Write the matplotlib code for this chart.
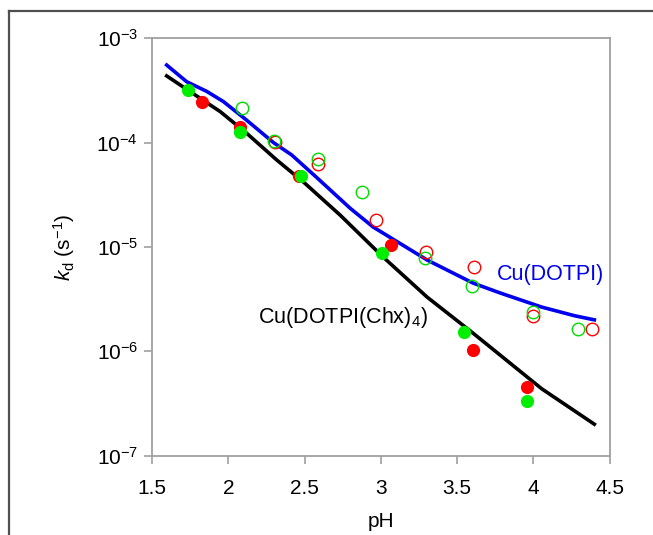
import matplotlib.pyplot as plt
from matplotlib.lines import Line2D

plt.rcParams['font.family'] = ['Liberation Sans', 'DejaVu Sans']
plt.rcParams['mathtext.fontset'] = 'custom'
plt.rcParams['mathtext.rm'] = 'Liberation Sans'
plt.rcParams['mathtext.it'] = 'Liberation Sans:italic'

# fitted curves
ph_blue = [1.596, 1.727, 1.859, 1.968, 2.12, 2.296, 2.416, 2.58, 2.80, 2.95, 3.303, 3.605, 3.78, 4.055, 4.27, 4.40]
kd_blue = [5.53e-4, 3.83e-4, 3.09e-4, 2.47e-4, 1.64e-4, 1.0e-4, 7.6e-5, 4.62e-5, 2.34e-5, 1.55e-5, 7.5e-6, 4.5e-6, 3.63e-6, 2.65e-6, 2.19e-6, 2.0e-6]
ph_black = [1.596, 1.748, 1.947, 2.12, 2.318, 2.5, 2.733, 3.015, 3.303, 3.605, 3.782, 4.055, 4.40]
kd_black = [4.35e-4, 3.09e-4, 1.98e-4, 1.23e-4, 6.8e-5, 4.1e-5, 2.02e-5, 8.0e-6, 3.31e-6, 1.49e-6, 9.2e-7, 4.37e-7, 2.0e-7]

# measured points
red_f_ph = [1.83, 2.074, 2.465, 3.066, 3.604, 3.96]
red_f_kd = [2.46e-4, 1.41e-4, 4.8e-5, 1.04e-5, 1.03e-6, 4.5e-7]
green_f_ph = [1.738, 2.08, 2.476, 3.01, 3.544, 3.96]
green_f_kd = [3.16e-4, 1.25e-4, 4.8e-5, 8.7e-6, 1.54e-6, 3.3e-7]
red_o_ph = [2.307, 2.585, 2.97, 3.295, 3.61, 4.0, 4.383]
red_o_kd = [1.02e-4, 6.25e-5, 1.8e-5, 9.0e-6, 6.45e-6, 2.19e-6, 1.65e-6]
green_o_ph = [2.088, 2.298, 2.585, 2.875, 3.29, 3.60, 3.995, 4.29]
green_o_kd = [2.12e-4, 1.04e-4, 7.0e-5, 3.37e-5, 7.8e-6, 4.2e-6, 2.4e-6, 1.62e-6]

fig = plt.figure(figsize=(6.53, 5.35), dpi=100)
ax = fig.add_axes([0.2328, 0.1484, 0.7007, 0.7802])

ax.plot(ph_blue, kd_blue, color='#0000ee', lw=2.6, zorder=2)
ax.plot(ph_black, kd_black, color='black', lw=2.6, zorder=2)

ax.plot(red_f_ph, red_f_kd, 'o', color='#ff0000', ms=9.5, mec='none', zorder=3)
ax.plot(green_f_ph, green_f_kd, 'o', color='#00ee00', ms=9.5, mec='none', zorder=4)
ax.plot(red_o_ph, red_o_kd, 'o', mfc='none', mec='#ff0000', ms=9, mew=1.0, zorder=3)
ax.plot(green_o_ph, green_o_kd, 'o', mfc='none', mec='#00dd00', ms=9, mew=1.0, zorder=4)

ax.set_yscale('log')
ax.set_xlim(1.5, 4.5)
ax.set_ylim(1e-7, 1e-3)
ax.set_xticks([1.5, 2, 2.5, 3, 3.5, 4, 4.5])
ax.set_xticklabels(['1.5', '2', '2.5', '3', '3.5', '4', '4.5'])
ax.set_yticks([1e-7, 1e-6, 1e-5, 1e-4, 1e-3])
ax.set_yticklabels([r'$10^{-7}$', r'$10^{-6}$', r'$10^{-5}$', r'$10^{-4}$', r'$10^{-3}$'])
ax.minorticks_off()

for s in ax.spines.values():
    s.set_color('#a0a0a0')
    s.set_linewidth(1.3)
ax.tick_params(axis='both', colors='#a0a0a0', labelcolor='black', labelsize=15,
               direction='out', length=6, width=1.2)
ax.tick_params(axis='x', pad=11)
ax.tick_params(axis='y', pad=4)

ax.set_xlabel('pH', fontsize=15, labelpad=10)
ax.set_ylabel(r'$k_{\rm d}$ (s$^{-1}$)', fontsize=15, labelpad=14)

ax.text(3.76, 4.82e-6, 'Cu(DOTPI)', color='#0000ee', fontsize=15.5, va='baseline', ha='left')
ax.text(2.195, 1.87e-6, r'Cu(DOTPI(Chx)$_4$)', color='black', fontsize=15.5, va='baseline', ha='left')

# outer frame (top and left edges visible)
fig.add_artist(Line2D([9 / 653, 9 / 653], [0, 1 - 11 / 535], transform=fig.transFigure,
                      color='#505050', lw=1.6))
fig.add_artist(Line2D([9 / 653, 1], [1 - 11 / 535, 1 - 11 / 535], transform=fig.transFigure,
                      color='#505050', lw=1.6))

fig.savefig('out.png', dpi=100)
